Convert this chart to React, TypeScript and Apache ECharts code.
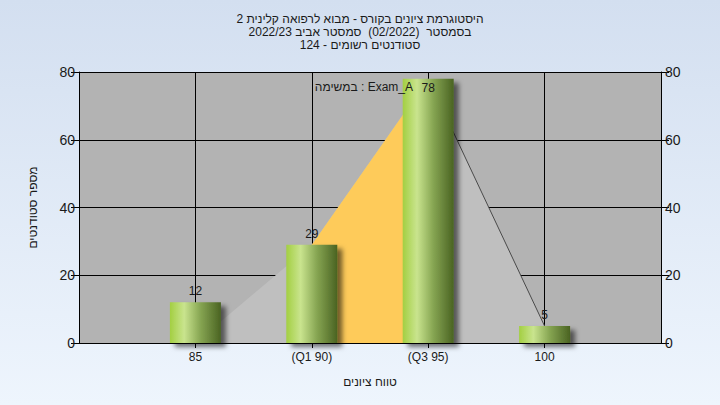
import React, { useEffect, useRef } from "react";
import * as echarts from "echarts";

const titleLines = [
  "היסטוגרמת ציונים בקורס - מבוא לרפואה קלינית 2",
  "בסמסטר  (02/2022)  סמסטר אביב 2022/23",
  "סטודנטים רשומים - 124",
];
const categories = ["", "85", "(Q1 90)", "(Q3 95)", "100", ""];
const counts: (number | null)[] = [null, 12, 29, 78, 5, null];
const grayArea: (number | null)[] = [null, 0, 29, 78, 5, null];
const orangeArea: (number | null)[] = [null, null, 29, 78, null, null];
const tailLine: (number | null)[] = [null, null, null, 78, 5, null];
const yTicks = { min: 0, max: 80, interval: 20 };
const legendText = "במשימה : Exam_A";
const xName = "טווח ציונים";
const yName = "מספר סטודנטים";

const FONT = "'Liberation Sans', Arial, 'DejaVu Sans', sans-serif";
const TXT = "#1a1a1a";

export default function App() {
  const ref = useRef<HTMLDivElement>(null);
  useEffect(() => {
    if (!ref.current) return;
    const chart = echarts.init(ref.current, null, { renderer: "svg" });
    const barGrad = new echarts.graphic.LinearGradient(0, 0, 1, 0, [
      { offset: 0, color: "#a3cf42" },
      { offset: 0.28, color: "#c9e48e" },
      { offset: 0.6, color: "#86a552" },
      { offset: 1, color: "#4a6322" },
    ]);
    const axisCommon = {
      type: "value" as const,
      min: yTicks.min,
      max: yTicks.max,
      interval: yTicks.interval,
      axisLine: { show: true, lineStyle: { color: "#000", width: 1 } },
      axisTick: { show: true, length: 8, lineStyle: { color: "#000" } },
      axisLabel: { color: TXT, fontSize: 14, fontFamily: FONT, margin: 4 },
    };
    chart.setOption({
      animation: false,
      textStyle: { fontFamily: FONT },
      title: {
        text: titleLines.join("\n"),
        left: "center",
        top: 7,
        textStyle: {
          fontSize: 12,
          fontWeight: "normal",
          color: TXT,
          lineHeight: 13,
          fontFamily: FONT,
        },
      },
      grid: {
        left: 79,
        right: 59,
        top: 72,
        bottom: 62,
        show: true,
        backgroundColor: "#b3b3b3",
        borderWidth: 0,
      },
      xAxis: {
        type: "category",
        data: categories,
        boundaryGap: false,
        axisLine: { show: true, lineStyle: { color: "#000" } },
        axisTick: { show: true, length: 5, lineStyle: { color: "#000" }, interval: (i: number) => i > 0 && i < 5 },
        axisLabel: { color: TXT, fontSize: 12, fontFamily: FONT, margin: 8, interval: 0 },
        splitLine: { show: true, lineStyle: { color: "#000", width: 1 }, interval: (i: number) => i > 0 && i < 5 },
        name: xName,
        nameLocation: "middle",
        nameGap: 33,
        nameTextStyle: { color: TXT, fontSize: 12, fontFamily: FONT },
      },
      yAxis: [
        {
          ...axisCommon,
          position: "left",
          splitLine: { show: true, lineStyle: { color: "#000", width: 1 } },
          name: yName,
          nameLocation: "middle",
          nameGap: 40,
          nameRotate: 90,
          nameTextStyle: { color: TXT, fontSize: 12, fontFamily: FONT },
        },
        {
          ...axisCommon,
          position: "right",
          splitLine: { show: false },
        },
      ],
      series: [
        {
          type: "line",
          data: grayArea,
          symbol: "none",
          lineStyle: { width: 0 },
          areaStyle: { color: "#bfbfbf", opacity: 1 },
          z: 1,
        },
        {
          type: "line",
          data: orangeArea,
          symbol: "none",
          lineStyle: { width: 0 },
          areaStyle: { color: "#fecb5a", opacity: 1 },
          z: 2,
        },
        {
          type: "line",
          data: tailLine,
          symbol: "none",
          lineStyle: { width: 1, color: "#4a4a4a" },
          z: 3,
        },
        {
          type: "bar",
          data: counts.map((v) =>
            v === null
              ? null
              : {
                  value: v,
                  label: v > 70 ? { position: "insideTop", distance: 3 } : { position: "top", distance: 5 },
                }
          ),
          barWidth: 51,
          z: 5,
          itemStyle: {
            color: barGrad,
            shadowColor: "rgba(0,0,0,0.55)",
            shadowBlur: 5,
            shadowOffsetX: 5,
            shadowOffsetY: 4,
          },
          label: { show: true, color: TXT, fontSize: 12, fontFamily: FONT },
        },
      ],
      graphic: [
        {
          type: "text",
          x: 413,
          y: 87,
          z: 10,
          style: {
            text: legendText,
            align: "right",
            verticalAlign: "middle",
            fill: TXT,
            font: `12px ${FONT}`,
          },
        },
      ],
    });
    return () => chart.dispose();
  }, []);
  return (
    <div
      style={{
        position: "fixed",
        left: 0,
        top: 0,
        width: 720,
        height: 405,
        background: "linear-gradient(#d3dff0, #eef5fd)",
      }}
    >
      <div ref={ref} style={{ width: 720, height: 405 }} />
    </div>
  );
}
